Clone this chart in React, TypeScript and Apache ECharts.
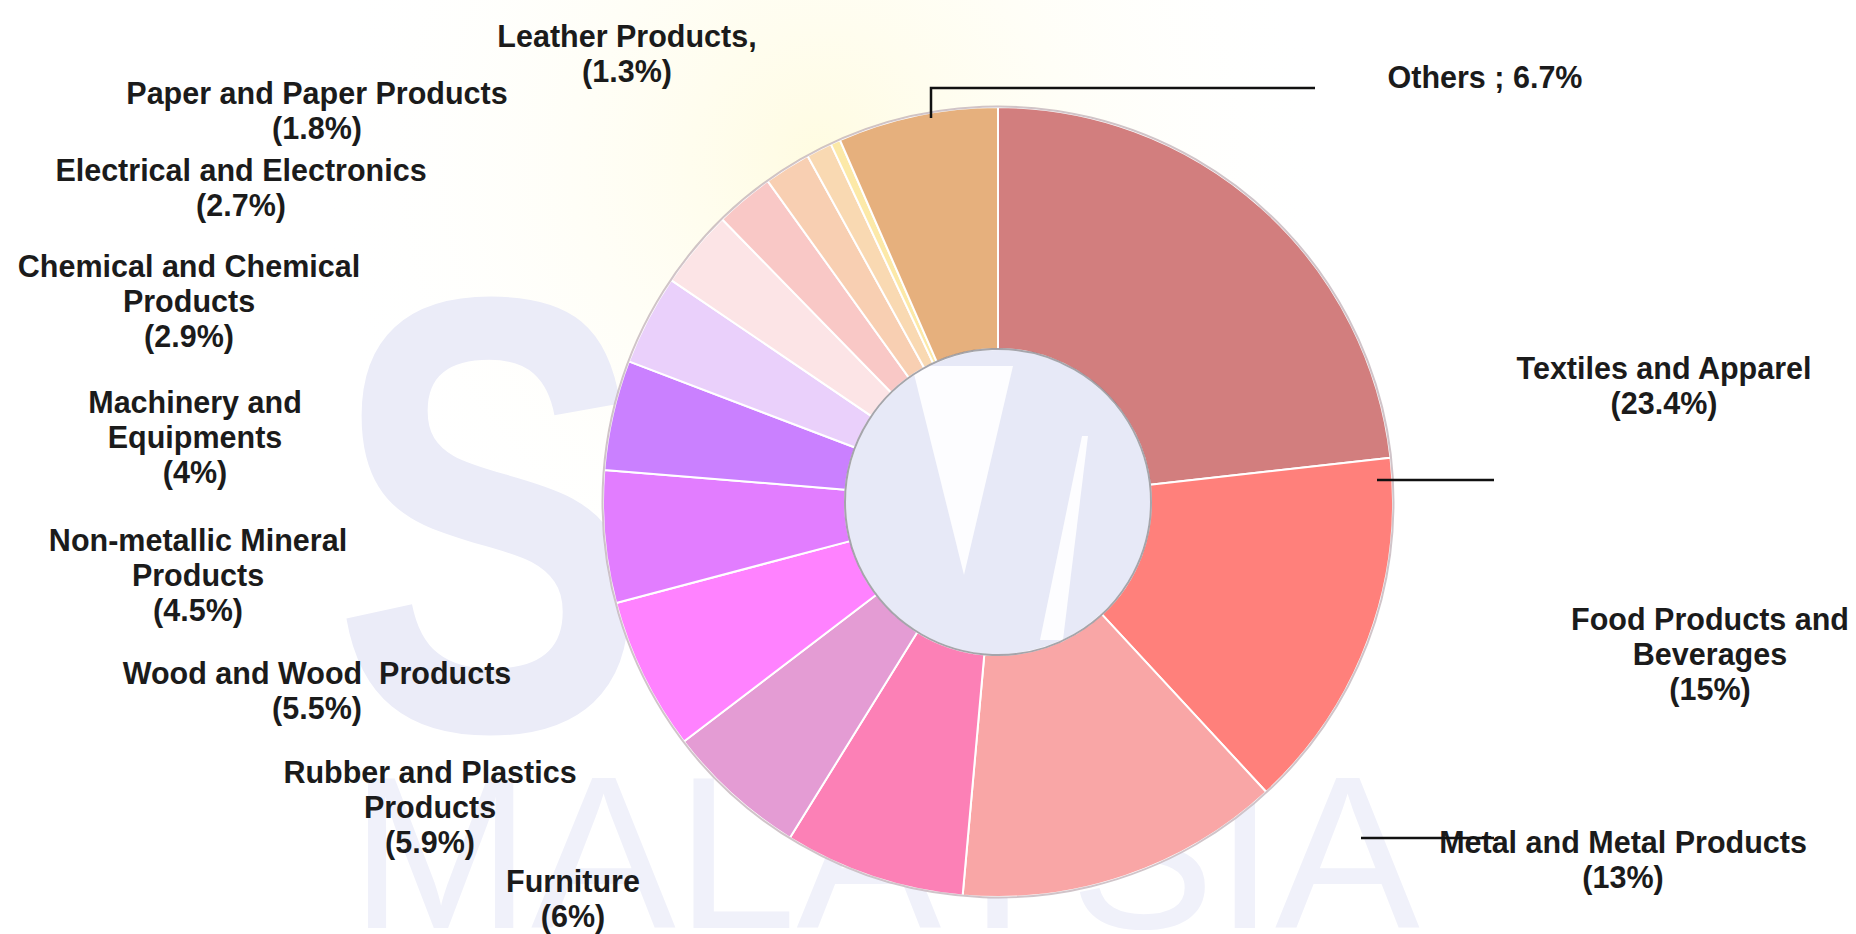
import React, { useEffect, useRef } from "react";
import * as echarts from "echarts";

// Categories in clockwise order starting at 12 o'clock
const categories = [
  "Textiles and Apparel",
  "Food Products and Beverages",
  "Metal and Metal Products",
  "Furniture",
  "Rubber and Plastics Products",
  "Wood and Wood  Products",
  "Non-metallic Mineral Products",
  "Machinery and Equipments",
  "Chemical and Chemical Products",
  "Electrical and Electronics",
  "Paper and Paper Products",
  "Leather Products",
  "Unlabelled A",
  "Unlabelled B",
  "Others",
];

// Percentages printed in the labels
const printedPercents = ["23.4", "15", "13", "6", "5.9", "5.5", "4.5", "4", "2.9", "2.7", "1.8", "1.3", "", "", "6.7"];

// Share of the ring each slice occupies, as drawn
const sliceShares = [23.2, 14.9, 13.3, 7.4, 5.8, 6.25, 5.4, 4.5, 3.7, 3.2, 2.4, 1.9, 1.05, 0.4, 6.55];

// How each label's name is broken into lines
const labelNameLines: string[][] = [
  ["Textiles and Apparel"],
  ["Food Products and", "Beverages"],
  ["Metal and Metal Products"],
  ["Furniture"],
  ["Rubber and Plastics", "Products"],
  ["Wood and Wood  Products"],
  ["Non-metallic Mineral", "Products"],
  ["Machinery and", "Equipments"],
  ["Chemical and Chemical", "Products"],
  ["Electrical and Electronics"],
  ["Paper and Paper Products"],
  ["Leather Products,"],
  [],
  [],
  ["Others"],
];

const sliceColors = [
  "#D27E7E", "#FF807B", "#F9A6A6", "#FC80B6", "#E49CD4", "#FF82FF", "#E27DFF",
  "#CA80FF", "#EAD0FB", "#FCE4E6", "#F9C8C6", "#F8CFB2", "#F9D9B2", "#FCE9A8", "#E6B07D",
];

// Label block centres (layout, px)
const labelAnchors: (number[] | null)[] = [
  [1664, 385], [1710, 654], [1623, 859], [573, 898], [430, 807], [317, 690], [198, 575],
  [195, 437], [189, 301], [241, 187], [317, 110], [627, 53], null, null, [1485, 77],
];

function labelText(i: number): string {
  const name = categories[i];
  if (name === "Others") return `Others ; ${printedPercents[i]}%`;
  return [...labelNameLines[i], `(${printedPercents[i]}%)`].join("\n");
}

const CX = 998;
const CY = 502;
const R_IN = 153;
const R_OUT = 395;

export default function App() {
  const ref = useRef<HTMLDivElement>(null);

  useEffect(() => {
    if (!ref.current) return;
    const chart = echarts.init(ref.current, undefined, { renderer: "svg" });

    const data = categories.map((name, i) => ({
      name,
      value: sliceShares[i],
      itemStyle: { color: sliceColors[i] },
      label: { show: labelAnchors[i] !== null, formatter: () => labelText(i) },
    }));

    chart.setOption({
      animation: false,
      backgroundColor: "#ffffff",
      graphic: [
        {
          type: "circle",
          z: -30,
          shape: { cx: 820, cy: 160, r: 520 },
          style: {
            fill: {
              type: "radial",
              x: 0.5,
              y: 0.5,
              r: 0.5,
              colorStops: [
                { offset: 0, color: "rgba(255,249,205,0.6)" },
                { offset: 1, color: "rgba(255,255,255,0)" },
              ],
            },
          },
        },
        {
          type: "text",
          z: -20,
          x: 490,
          y: 515,
          scaleX: 0.76,
          style: {
            text: "S",
            x: 0,
            y: 0,
            align: "center",
            verticalAlign: "middle",
            fontFamily: "Liberation Sans, Arial, sans-serif",
            fontWeight: "bold",
            fontSize: 620,
            fill: "#EBECF8",
          },
        },
        {
          type: "text",
          z: -20,
          x: 885,
          y: 853,
          style: {
            text: "MALAYSIA",
            x: 0,
            y: 0,
            align: "center",
            verticalAlign: "middle",
            fontFamily: "Liberation Sans, Arial, sans-serif",
            fontSize: 217,
            fill: "#F0F1FA",
          },
        },
        {
          type: "circle",
          z: -10,
          shape: { cx: CX, cy: CY, r: R_IN + 2 },
          style: { fill: "#E7E9F7" },
        },
        {
          type: "polygon",
          z: -9,
          shape: { points: [[912, 366], [1013, 366], [964, 575]] },
          style: { fill: "rgba(255,255,255,0.9)" },
        },
        {
          type: "polygon",
          z: -9,
          shape: { points: [[1082, 436], [1088, 436], [1063, 640], [1040, 640]] },
          style: { fill: "rgba(255,255,255,0.9)" },
        },
        {
          type: "circle",
          z: 100,
          shape: { cx: CX, cy: CY, r: R_OUT + 0.5 },
          style: { fill: null, stroke: "rgba(150,125,135,0.45)", lineWidth: 2 },
        },
        {
          type: "circle",
          z: 100,
          shape: { cx: CX, cy: CY, r: R_IN },
          style: { fill: null, stroke: "rgba(105,105,115,0.6)", lineWidth: 2 },
        },
        {
          type: "polyline",
          z: 100,
          shape: { points: [[931, 118], [931, 88], [1315, 88]] },
          style: { stroke: "#111", lineWidth: 2.5, fill: null },
        },
        {
          type: "line",
          z: 100,
          shape: { x1: 1377, y1: 480, x2: 1494, y2: 480 },
          style: { stroke: "#111", lineWidth: 2.5 },
        },
        {
          type: "line",
          z: 100,
          shape: { x1: 1361, y1: 838, x2: 1494, y2: 838 },
          style: { stroke: "#111", lineWidth: 2.5 },
        },
      ],
      series: [
        {
          type: "pie",
          center: [CX, CY],
          radius: [R_IN, R_OUT],
          startAngle: 90,
          clockwise: true,
          avoidLabelOverlap: false,
          silent: true,
          itemStyle: { borderColor: "#ffffff", borderWidth: 2 },
          label: {
            show: true,
            position: "outside",
            color: "#1b1b1b",
            fontFamily: "Liberation Sans, Arial, sans-serif",
            fontWeight: "bold",
            fontSize: 30.5,
            lineHeight: 35,
            align: "center",
          },
          labelLine: { show: false },
          labelLayout: (params: any) => {
            const p = labelAnchors[params.dataIndex];
            if (!p) return {};
            return { x: p[0], y: p[1], align: "center", verticalAlign: "middle" };
          },
          data,
        },
      ],
    });

    return () => chart.dispose();
  }, []);

  return (
    <div
      ref={ref}
      style={{ position: "fixed", left: 0, top: 0, width: "1856px", height: "934px", background: "#fff" }}
    />
  );
}
